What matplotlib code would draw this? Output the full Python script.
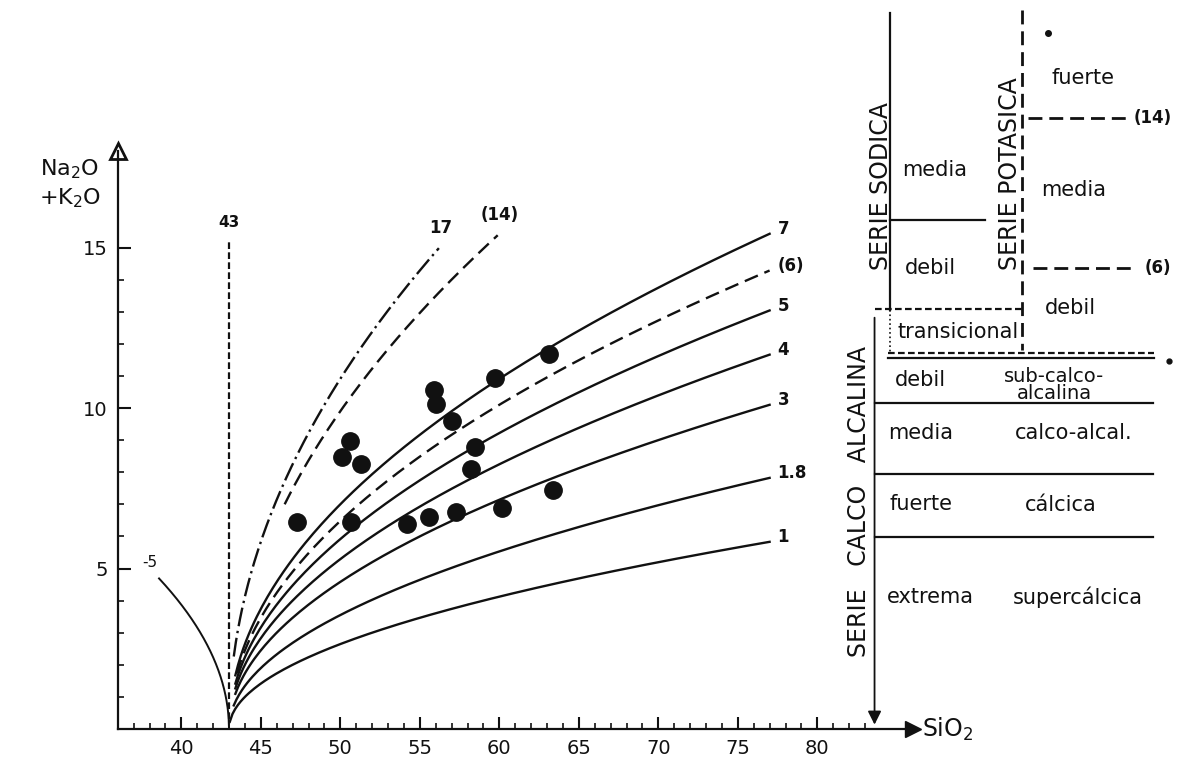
import numpy as np
import matplotlib.pyplot as plt

# Rittmann sigma isopleths: (Na2O+K2O)^2 = sigma * (SiO2 - 43)
sigma_vals = [1, 1.8, 3, 4, 5, 6, 7, 14, 17]
sigma_labels = ['1', '1.8', '3', '4', '5', '(6)', '7', '(14)', '17']
sigma_x_start = [43.05, 43.3, 43.4, 43.4, 43.4, 43.5, 43.4, 46.5, 43.3]
sigma_x_end = [77, 77, 77, 77, 77, 77, 77, 59.9, 56.2]
sigma_styles = ['-', '-', '-', '-', '-', (0, (6, 3)), '-', (0, (6, 3)), (0, (8, 2, 1, 2))]

# negative sigma branch (SiO2 < 43)
neg_sigma = -5
neg_x_start = 38.6

# samples
silica = [47.3, 50.1, 50.6, 51.3, 50.7, 54.2, 55.6, 57.3, 55.9, 56.0,
          57.0, 58.5, 58.2, 59.7, 63.1, 60.2, 63.4]
alkali = [6.45, 8.47, 8.97, 8.26, 6.45, 6.39, 6.60, 6.76, 10.56, 10.12,
          9.60, 8.79, 8.10, 10.93, 11.68, 6.88, 7.45]

ink = '#111111'

fig = plt.figure(figsize=(11.78, 7.58), dpi=100)
ax = fig.add_axes([117.7 / 1178, 29 / 758, 795 / 1178, 577.8 / 758])
ax.set_xlim(36, 86)
ax.set_ylim(0, 18)

for s in ['top', 'right']:
    ax.spines[s].set_visible(False)
for s in ['left', 'bottom']:
    ax.spines[s].set_linewidth(1.6)
    ax.spines[s].set_color(ink)

ax.set_xticks(range(40, 85, 5))
ax.set_xticks(range(37, 84), minor=True)
ax.set_yticks([5, 10, 15])
ax.set_yticks(range(1, 16), minor=True)
ax.tick_params(which='major', direction='in', length=9, width=1.5,
               labelsize=14, pad=7, colors=ink)
ax.tick_params(which='minor', direction='in', length=4, width=1.2, colors=ink)

# axis arrows
ax.plot([86], [0], marker='>', ms=11, color=ink, clip_on=False)
ax.plot([36], [18], marker='^', ms=12, mfc='white', mec=ink, mew=2, clip_on=False)
ax.text(86.6, 0, r'SiO$_2$', fontsize=17, va='center', ha='left', color=ink)
ax.text(33.0, 17.8, 'Na$_2$O\n+K$_2$O', fontsize=16, va='top', ha='center',
        color=ink, linespacing=1.3)

# vertical line at SiO2 = 43
ax.plot([43, 43], [0.3, 15.2], color=ink, lw=1.6, ls=(0, (3, 1.5)))
ax.text(43, 15.55, '43', fontsize=11, fontweight='bold', ha='center', va='bottom', color=ink)

# sigma curves
for sig, lab, x0, x1, ls in zip(sigma_vals, sigma_labels, sigma_x_start,
                                 sigma_x_end, sigma_styles):
    x = np.linspace(x0, x1, 200)
    y = np.sqrt(sig * (x - 43))
    ax.plot(x, y, color=ink, lw=1.7, ls=ls)
    if x1 >= 77:
        ax.text(x1 + 0.5, y[-1] + 0.15, lab, fontsize=12, fontweight='bold',
                ha='left', va='center', color=ink)
    else:
        ax.text(x1 + 0.1, y[-1] + 0.35, lab, fontsize=12, fontweight='bold',
                ha='center', va='bottom', color=ink)

xn = np.linspace(neg_x_start, 43, 200)
ax.plot(xn, np.sqrt(neg_sigma * (xn - 43)), color=ink, lw=1.4)
ax.text(38.0, 5.2, '-5', fontsize=11, ha='center', va='center', color=ink)

# samples
ax.plot(silica, alkali, 'o', ms=12.5, color=ink)

# right-hand classification panel
kw = dict(color=ink, clip_on=False)
# serie sodica
ax.plot([84.57, 84.57], [22.3, 13.05], lw=1.6, **kw)
ax.plot([84.57, 84.57], [13.05, 11.7], lw=1.2, ls=':', **kw)
ax.plot([84.57, 90.55], [15.86, 15.86], lw=1.6, **kw)
# serie potasica
ax.plot([92.87, 92.87], [22.4, 11.8], lw=2, ls=(0, (5, 2.5)), **kw)
ax.plot([93.25, 99.67], [19.03, 19.03], lw=2, ls=(0, (5, 2.5)), **kw)
ax.plot([93.57, 100.0], [14.36, 14.36], lw=2, ls=(0, (5, 2.5)), **kw)
ax.plot([94.51], [21.68], 'o', ms=4, **kw)
# transicional box
ax.plot([83.6, 92.9], [13.08, 13.08], lw=1.6, ls=(0, (3, 1.5)), **kw)
ax.plot([84.44, 101.2], [11.71, 11.71], lw=1.6, ls=(0, (3, 1.5)), **kw)
ax.plot([84.44, 101.2], [11.55, 11.55], lw=1.6, **kw)
ax.plot([102.1], [11.45], 'o', ms=3.5, **kw)
# serie calco alcalina
ax.annotate('', xy=(83.6, 0.05), xytext=(83.6, 12.9), annotation_clip=False,
            arrowprops=dict(arrowstyle='-|>', color=ink, lw=1.3,
                            mutation_scale=20))
for yb in [10.16, 7.94, 5.98]:
    ax.plot([83.6, 101.1], [yb, yb], lw=1.6, **kw)

tkw = dict(fontsize=15, color=ink, va='center', ha='center', clip_on=False)
ax.text(84.0, 16.9, 'SERIE SODICA', rotation=90, fontsize=17, color=ink,
        va='center', ha='center')
ax.text(92.1, 17.3, 'SERIE POTASICA', rotation=90, fontsize=17, color=ink,
        va='center', ha='center')
ax.text(82.6, 7.1, 'SERIE   CALCO   ALCALINA', rotation=90, fontsize=17,
        color=ink, va='center', ha='center')

ax.text(87.4, 17.41, 'media', **tkw)
ax.text(87.1, 14.36, 'debil', **tkw)
ax.text(88.85, 12.37, 'transicional', **tkw)
ax.text(86.5, 10.87, 'debil', **tkw)
ax.text(94.9, 10.72, 'sub-calco-\nalcalina', fontsize=14, color=ink,
        va='center', ha='center', linespacing=0.9)
ax.text(86.5, 9.22, 'media', **tkw)
ax.text(96.1, 9.22, 'calco-alcal.', **tkw)
ax.text(86.5, 7.02, 'fuerte', **tkw)
ax.text(95.3, 6.98, 'cálcica', **tkw)
ax.text(87.1, 4.11, 'extrema', **tkw)
ax.text(96.4, 4.11, 'supercálcica', **tkw)
ax.text(96.7, 20.28, 'fuerte', **tkw)
ax.text(96.1, 16.79, 'media', **tkw)
ax.text(95.9, 13.12, 'debil', **tkw)
ax.text(101.1, 19.03, '(14)', fontsize=12, fontweight='bold', color=ink,
        va='center', ha='center')
ax.text(101.4, 14.36, '(6)', fontsize=12, fontweight='bold', color=ink,
        va='center', ha='center')

fig.savefig('out.png', dpi=100)
